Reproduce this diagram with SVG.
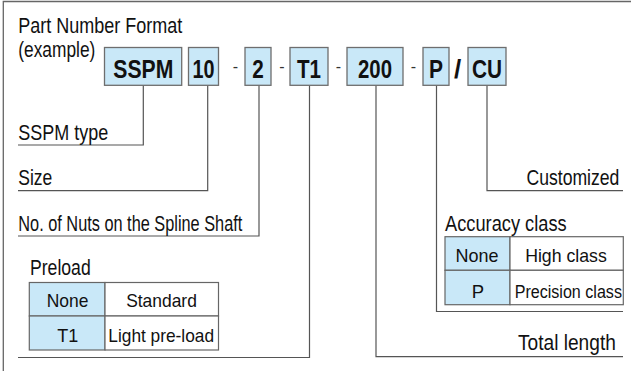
<svg xmlns="http://www.w3.org/2000/svg" width="631" height="371" viewBox="0 0 631 371">
<style>
.lbl{font-family:"Liberation Sans",Arial,sans-serif;font-size:22px;fill:#111}
.tb{font-family:"Liberation Sans",Arial,sans-serif;font-size:18.5px;fill:#111;text-anchor:middle}
.bx{font-family:"Liberation Sans",Arial,sans-serif;font-size:26px;font-weight:bold;fill:#111;text-anchor:middle}
.sep{font-family:"Liberation Sans",Arial,sans-serif;font-size:16px;fill:#333;text-anchor:middle}
.box{fill:#c9e8f8;stroke:#6e6e6e;stroke-width:1.3}
.cellb{fill:#c9e8f8;stroke:#666;stroke-width:1.2}
.cellw{fill:#fff;stroke:#666;stroke-width:1.2}
.ln{fill:none;stroke:#555;stroke-width:1.2}
</style>
<rect width="631" height="371" fill="#fff"/>
<path d="M3.3 371 V1.5 H631" fill="none" stroke="#666" stroke-width="1.3"/>
<g id="title">
<text class="lbl" x="18.3" y="32.5" textLength="164" lengthAdjust="spacingAndGlyphs">Part Number Format</text>
<text class="lbl" x="18.3" y="57" textLength="77" lengthAdjust="spacingAndGlyphs">(example)</text>
</g>
<g id="connectors">
<path class="ln" d="M143.3 85.3 V145 H18"/>
<path class="ln" d="M207.7 85.3 V190.7 H18"/>
<path class="ln" d="M259 85.3 V236 H18"/>
<path class="ln" d="M309.5 85.3 V357.5 H18"/>
<path class="ln" d="M376 85.3 V356.7 H623"/>
<path class="ln" d="M436.5 85.3 V311.5 H623" stroke="#777"/>
<path class="ln" d="M487 85.3 V190.7 H623" stroke="#777"/>
</g>
<g id="box-sspm"><rect class="box" x="104.5" y="47.5" width="77.2" height="37.8"/><text class="bx" x="143.3" y="77.5" textLength="60" lengthAdjust="spacingAndGlyphs">SSPM</text></g>
<g id="box-10"><rect class="box" x="188.5" y="47.5" width="30" height="37.8"/><text class="bx" x="203.5" y="77.5" textLength="22" lengthAdjust="spacingAndGlyphs">10</text></g>
<text class="sep" x="235.5" y="72">-</text>
<g id="box-2"><rect class="box" x="245" y="47.5" width="26" height="37.8"/><text class="bx" x="258" y="77.5" textLength="11.5" lengthAdjust="spacingAndGlyphs">2</text></g>
<text class="sep" x="282" y="72">-</text>
<g id="box-t1"><rect class="box" x="290" y="47.5" width="38" height="37.8"/><text class="bx" x="309" y="77.5" textLength="24" lengthAdjust="spacingAndGlyphs">T1</text></g>
<text class="sep" x="338.5" y="72">-</text>
<g id="box-200"><rect class="box" x="347" y="47.5" width="56" height="37.8"/><text class="bx" x="375" y="77.5" textLength="34" lengthAdjust="spacingAndGlyphs">200</text></g>
<text class="sep" x="413.5" y="72">-</text>
<g id="box-p"><rect class="box" x="423" y="47.5" width="26" height="37.8"/><text class="bx" x="436" y="77.5" textLength="14" lengthAdjust="spacingAndGlyphs">P</text></g>
<text class="bx" x="457.5" y="77.5">/</text>
<g id="box-cu"><rect class="box" x="468" y="47.5" width="38" height="37.8"/><text class="bx" x="487" y="77.5" textLength="30" lengthAdjust="spacingAndGlyphs">CU</text></g>
<g id="lbl-type"><text class="lbl" x="18.3" y="139.5" textLength="90" lengthAdjust="spacingAndGlyphs">SSPM type</text></g>
<g id="lbl-size"><text class="lbl" x="18.3" y="185" textLength="34" lengthAdjust="spacingAndGlyphs">Size</text></g>
<g id="lbl-nuts"><text class="lbl" x="18.3" y="230.5" textLength="224" lengthAdjust="spacingAndGlyphs">No. of Nuts on the Spline Shaft</text></g>
<g id="lbl-custom"><text class="lbl" transform="translate(526.5,185) scale(0.8,1)" x="0" y="0">Customized</text></g>
<g id="accuracy">
<text class="lbl" x="445" y="231" textLength="121.7" lengthAdjust="spacingAndGlyphs">Accuracy class</text>
<rect class="cellb" x="445" y="236.7" width="65" height="33.6"/>
<rect class="cellw" x="510" y="236.7" width="113.3" height="33.6"/>
<rect class="cellb" x="445" y="270.3" width="65" height="34.4"/>
<rect class="cellw" x="510" y="270.3" width="113.3" height="34.4"/>
<text class="tb" x="477" y="262.3" textLength="43" lengthAdjust="spacingAndGlyphs">None</text>
<text class="tb" x="566" y="262.3" textLength="81.7" lengthAdjust="spacingAndGlyphs">High class</text>
<text class="tb" x="478" y="297.7">P</text>
<text class="tb" transform="translate(568.3,297.7) scale(0.87,1)" x="0" y="0">Precision class</text>
</g>
<g id="preload">
<text class="lbl" x="30" y="275" textLength="60.7" lengthAdjust="spacingAndGlyphs">Preload</text>
<rect class="cellb" x="29.3" y="282.5" width="75.7" height="33.5"/>
<rect class="cellw" x="105" y="282.5" width="113.5" height="33.5"/>
<rect class="cellb" x="29.3" y="316" width="75.7" height="34"/>
<rect class="cellw" x="105" y="316" width="113.5" height="34"/>
<text class="tb" x="67.5" y="306.7" textLength="41.7" lengthAdjust="spacingAndGlyphs">None</text>
<text class="tb" x="161.5" y="306.7" textLength="70.7" lengthAdjust="spacingAndGlyphs">Standard</text>
<text class="tb" x="67.8" y="341.7" textLength="21" lengthAdjust="spacingAndGlyphs">T1</text>
<text class="tb" x="161.2" y="341.7" textLength="105.7" lengthAdjust="spacingAndGlyphs">Light pre-load</text>
</g>
<g id="lbl-total"><text class="lbl" transform="translate(518,350) scale(0.87,1)" x="0" y="0">Total length</text></g>
</svg>
